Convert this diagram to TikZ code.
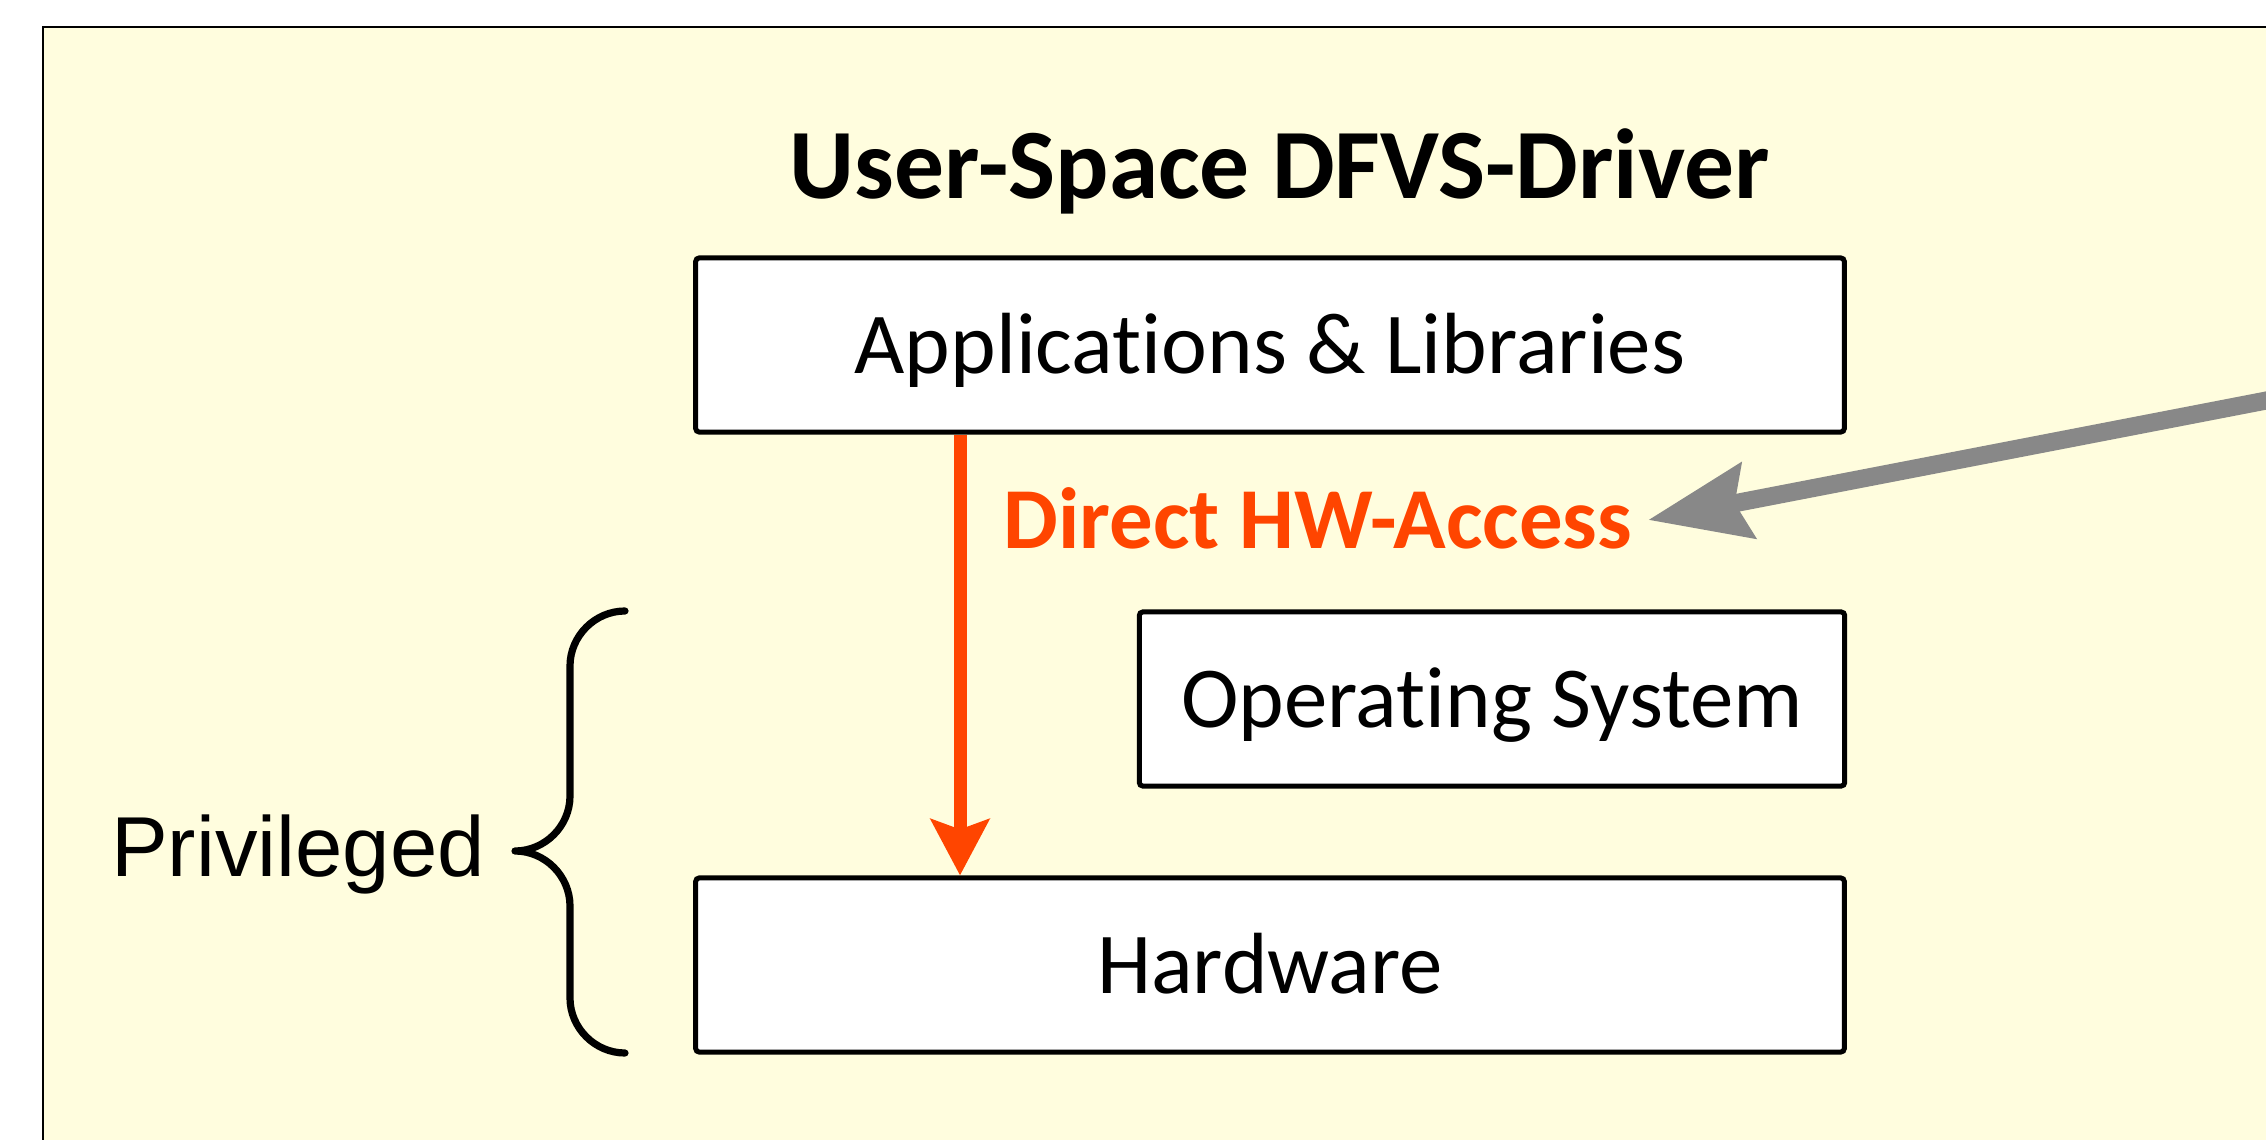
\documentclass[tikz,border=0pt]{standalone}
\usepackage{fontspec}
\setmainfont{Carlito}[Ligatures=NoCommon]
\newfontfamily\arialfont{Liberation Sans}
\usetikzlibrary{arrows.meta,positioning,calc}
\definecolor{bgyellow}{RGB}{255,253,222}
\definecolor{accred}{RGB}{255,69,0}
\definecolor{ptrgray}{RGB}{136,136,136}
\tikzset{
  layer/.style={draw, line width=0.05cm, fill=white, rounded corners=1pt,
                font=\fontsize{24.7}{29}\selectfont, minimum width=#1, minimum height=1.74cm,
                text height=0.56cm, text depth=0pt, inner sep=0pt},
  headline/.style={font=\fontsize{28.3}{34}\selectfont\bfseries,
                   text height=0.64cm, text depth=0pt, inner sep=0pt},
  acclabel/.style={font=\fontsize{24.7}{29}\selectfont\bfseries, text=accred,
                   text height=0.57cm, text depth=0pt, inner xsep=0.15cm, inner ysep=0pt},
  privlabel/.style={font=\arialfont\fontsize{24.2}{29}\selectfont, inner sep=0pt},
  accarrow/.style={accred, line width=0.13cm,
                   -{Stealth[length=0.56cm, width=0.58cm, inset=0.1cm]}},
  ptrarrow/.style={ptrgray, line width=0.18cm,
                   -{Stealth[length=1.01cm, width=0.75cm, inset=0.13cm]}},
  bracket/.style={line width=0.072cm, line cap=round, line join=round},
}
\begin{document}
\begin{tikzpicture}[x=0.01cm, y=-0.01cm]
\clip (0,0) rectangle (2266,1140);
% panel
\fill[bgyellow] (43,27) rectangle (2300,1200);
\draw[line width=0.025cm] (43,1200) -- (43,27) -- (2300,27);

% title and layers
\node[headline] (title) at (1280,166) {User-Space DFVS-Driver};
\node[layer=11.48cm] (apps) at (1270,345) {Applications \& Libraries};
\node[layer=7.05cm] (os) at (1492,699) {Operating System};
\node[layer=11.48cm] (hw) at (1270,965) {Hardware};

% direct access path
\coordinate (xr) at (960,0);
\draw[accarrow] (apps.south -| xr) -- (hw.north -| xr);
\node[acclabel] (acc) at (1318,520) {Direct HW-Access};

% pointer from outside
\coordinate (src) at (2300,394);
\draw[ptrarrow] (src) -- (acc.east);

% privileged brace
\draw[bracket] (625,611) .. controls (595,611) and (570,636) .. (570,666)
  -- (570,796) .. controls (570,826) and (545,851) .. (515,851)
  .. controls (545,851) and (570,876) .. (570,906)
  -- (570,998) .. controls (570,1028) and (595,1053) .. (625,1053);
\node[privlabel, anchor=base] (priv) at (298,876) {Privileged};
\end{tikzpicture}
\end{document}
